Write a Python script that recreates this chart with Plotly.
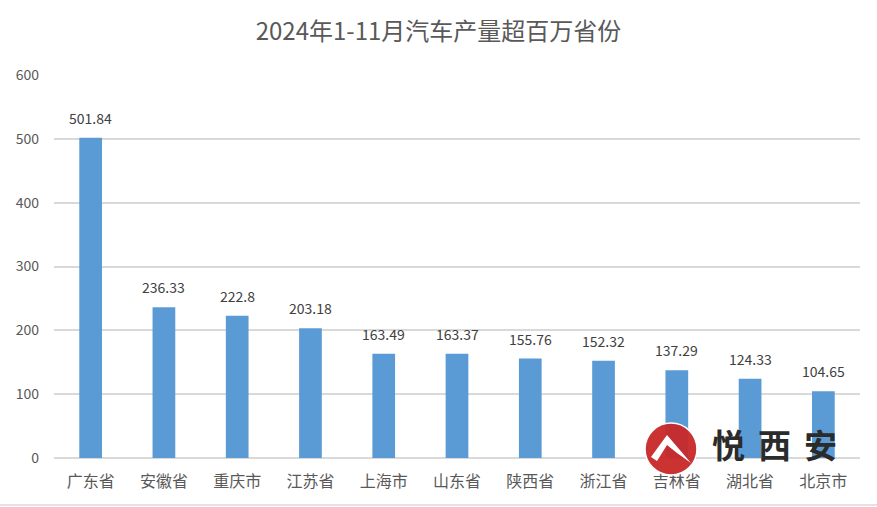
import plotly.graph_objects as go

categories = ["广东省", "安徽省", "重庆市", "江苏省", "上海市", "山东省", "陕西省", "浙江省", "吉林省", "湖北省", "北京市"]
values = [501.84, 236.33, 222.8, 203.18, 163.49, 163.37, 155.76, 152.32, 137.29, 124.33, 104.65]
labels = ["501.84", "236.33", "222.8", "203.18", "163.49", "163.37", "155.76", "152.32", "137.29", "124.33", "104.65"]
y_ticks = [0, 100, 200, 300, 400, 500, 600]
watermark = ["悦", "西", "安"]

W, H = 877, 507
L, R, T, B = 54, 17, 75, 49
pw, ph = W - L - R, H - T - B

def px(x):
    return (x - L) / pw

def py(y):
    return (H - B - y) / ph

font = "Noto Sans CJK SC, Noto Sans, sans-serif"

fig = go.Figure(go.Bar(
    x=categories, y=values,
    marker=dict(color="#5B9BD5", line=dict(width=0)),
    width=0.31,
))

for c, v, t in zip(categories, values, labels):
    fig.add_annotation(x=c, y=v, text=t, showarrow=False, yshift=20, yanchor="middle",
                       font=dict(size=14, color="#404040", family=font))

fig.update_layout(
    width=W, height=H,
    margin=dict(l=L, r=R, t=T, b=B),
    paper_bgcolor="white", plot_bgcolor="white",
    title=dict(text="2024年1-11月汽车产量超百万省份", x=0.5, xanchor="center",
               y=1 - 32 / H, yanchor="middle",
               font=dict(size=24, color="#595959", family=font)),
    showlegend=False,
    font=dict(family=font, color="#595959"),
    xaxis=dict(showgrid=False, showline=False, ticks="", tickfont=dict(size=16, color="#595959"),
               ticklabelstandoff=12),
    yaxis=dict(range=[0, 600], tickvals=y_ticks, showgrid=True, gridcolor="#D9D9D9", gridwidth=1.5,
               zeroline=True, zerolinecolor="#D9D9D9", zerolinewidth=1.5,
               tickfont=dict(size=14, color="#595959"), ticklabelstandoff=14),
)

# bottom border line
fig.add_shape(type="line", xref="paper", yref="paper", x0=px(0), x1=px(W), y0=py(505), y1=py(505),
              line=dict(color="#D9D9D9", width=1.5))

# watermark logo
cx, cy, r = 671, 449, 26
fig.add_shape(type="circle", xref="paper", yref="paper",
              x0=px(cx - r), x1=px(cx + r), y0=py(cy + r), y1=py(cy - r),
              fillcolor="rgba(200,40,40,0.95)", line=dict(color="white", width=1.5))
pts = [(cx - 20, cy + 8), (cx - 4, cy - 14), (cx + 20, cy + 14), (cx + 6, cy + 4), (cx - 4, cy - 4), (cx - 14, cy + 12)]
path = "M " + " L ".join(f"{px(a):.5f},{py(b):.5f}" for a, b in pts) + " Z"
fig.add_shape(type="path", xref="paper", yref="paper", path=path, fillcolor="white", line=dict(width=0))
for i, ch in enumerate(watermark):
    fig.add_annotation(text=f"<b>{ch}</b>", xref="paper", yref="paper", x=px(728 + 46 * i), y=py(444),
                       xanchor="center", yanchor="middle", showarrow=False,
                       font=dict(size=33, color="#2b2b2b", family=font))

fig.write_html("out.html")
